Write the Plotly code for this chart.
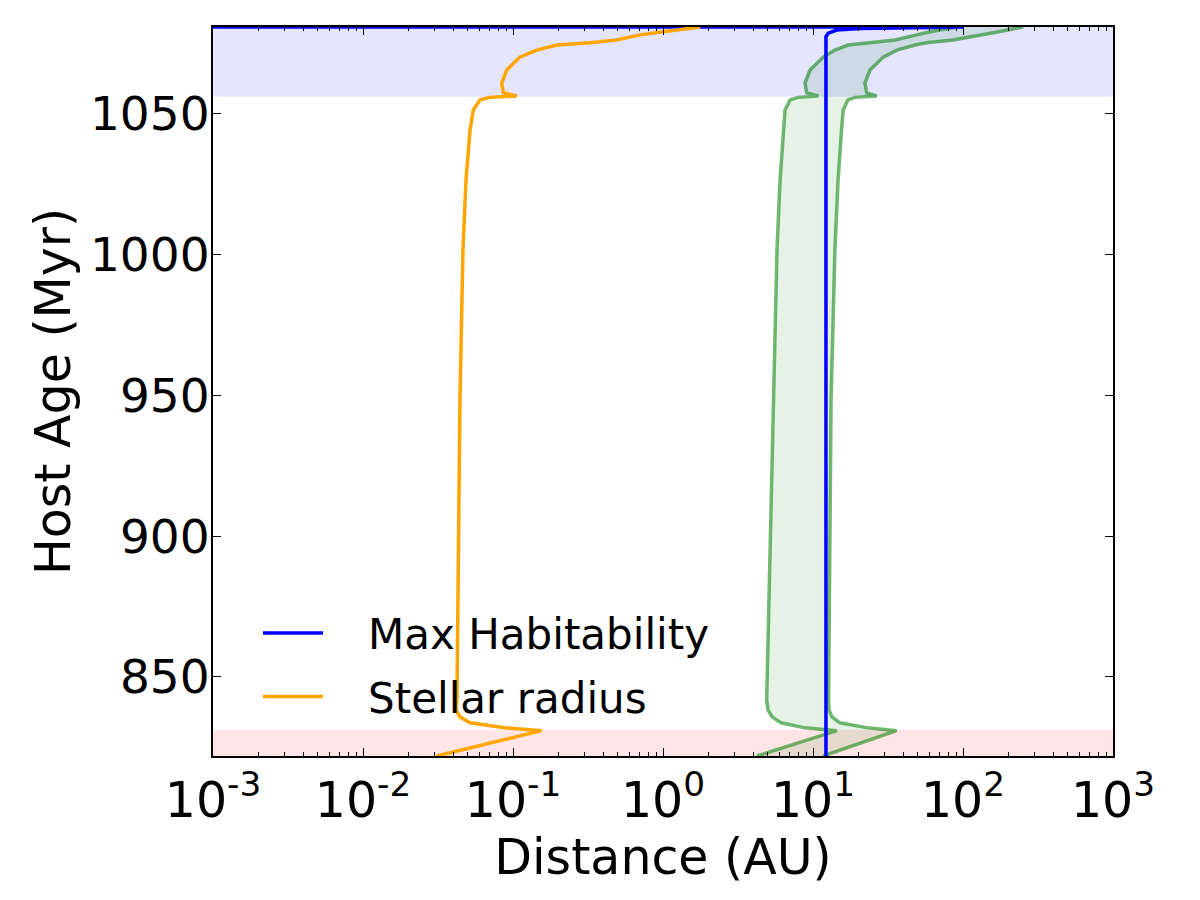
import plotly.graph_objects as go

# Host age (Myr) samples shared by stellar radius and HZ boundaries
age = [821.9, 830.9, 831.9, 833.7, 835.8, 838.3, 841.8, 895.1, 948.4, 1001.7,
       1026.6, 1044.3, 1051.4, 1055.0, 1055.9, 1056.4, 1057.5, 1061.0, 1065.6,
       1070.2, 1072.7, 1074.5, 1075.3, 1076.3, 1078.1, 1079.2, 1080.9]

# Stellar radius (AU)
stellar_radius = [0.031, 0.155, 0.088, 0.0517, 0.0443, 0.0417, 0.0423, 0.0433, 0.0443,
                  0.0464, 0.0486, 0.0517, 0.0544, 0.0603, 0.0703, 0.106, 0.0862, 0.0841,
                  0.0908, 0.111, 0.144, 0.196, 0.326, 0.491, 0.702, 1.0, 1.77]

# Habitable zone inner / outer edges (AU)
hz_inner = [4.22, 14.4, 8.84, 6.12, 5.33, 5.01, 4.91, 5.17, 5.44, 5.75, 6.03, 6.34, 6.51,
            7.03, 7.94, 10.85, 9.08, 8.84, 9.55, 11.7, 14.0, 17.1, 22.8, 35.2, 49.1, 60.3, 90.8]
hz_outer = [11.7, 36.1, 23.3, 15.1, 13.4, 12.8, 12.7, 13.0, 13.2, 14.0, 14.7, 15.5, 15.9,
            17.1, 19.1, 26.6, 22.8, 22.2, 24.0, 29.4, 36.3, 47.9, 57.3, 85.8, 137.0, 174.0, 252.0]

# Max habitability distance (AU)
maxhab_age = [821.9, 1077.5, 1078.7, 1079.8, 1080.4, 1080.9, 1080.9]
maxhab = [12.2, 12.2, 12.65, 14.4, 20.6, 100.0, 1e-4]

# Evolutionary phase boundaries (Myr)
pre_ms_end = 831.2
post_ms_start = 1056.1

age_range = [821.9, 1080.9]
x_tickvals = [1e-3, 1e-2, 1e-1, 1e0, 1e1, 1e2, 1e3]
x_ticktext = ["10<sup>-3</sup>", "10<sup>-2</sup>", "10<sup>-1</sup>", "10<sup>0</sup>",
              "10<sup>1</sup>", "10<sup>2</sup>", "10<sup>3</sup>"]
y_tickvals = [850, 900, 950, 1000, 1050]

NB = "\u00a0\u00a0\u00a0"

fig = go.Figure()

# HZ fill
fig.add_trace(go.Scatter(
    x=hz_inner + hz_outer[::-1], y=age + age[::-1],
    fill="toself", fillcolor="rgba(0,128,0,0.1)", line=dict(width=0),
    mode="lines", showlegend=False, hoverinfo="skip"))
fig.add_trace(go.Scatter(x=hz_inner, y=age, mode="lines",
                         line=dict(color="rgba(0,128,0,0.55)", width=3.5), showlegend=False))
fig.add_trace(go.Scatter(x=hz_outer, y=age, mode="lines",
                         line=dict(color="rgba(0,128,0,0.55)", width=3.5), showlegend=False))
fig.add_trace(go.Scatter(x=maxhab, y=maxhab_age, mode="lines", name=NB + "Max Habitability",
                         legendgroup="a", line=dict(color="#0000FF", width=3.5)))
fig.add_trace(go.Scatter(x=stellar_radius, y=age, mode="lines", name=NB + "Stellar radius",
                         legendgroup="b", line=dict(color="#FFA500", width=3.5)))

fig.add_shape(type="rect", xref="paper", x0=0, x1=1, yref="y",
              y0=age_range[0], y1=pre_ms_end, fillcolor="rgba(255,0,0,0.1)",
              line=dict(width=0), layer="below")
fig.add_shape(type="rect", xref="paper", x0=0, x1=1, yref="y",
              y0=post_ms_start, y1=age_range[1], fillcolor="rgba(0,0,255,0.1)",
              line=dict(width=0), layer="below")

fig.update_layout(
    width=1200, height=900,
    margin=dict(l=213, r=87, t=27, b=144),
    paper_bgcolor="white", plot_bgcolor="white",
    font=dict(family="DejaVu Sans", color="black"),
    legend=dict(x=0.05, y=0.034, xanchor="left", yanchor="bottom",
                bgcolor="rgba(0,0,0,0)", font=dict(size=42), itemwidth=60,
                traceorder="grouped", tracegroupgap=6),
)
fig.update_xaxes(
    type="log", range=[-3, 3], tickvals=x_tickvals, ticktext=x_ticktext,
    ticks="inside", ticklen=8, tickwidth=1, tickcolor="black",
    showline=True, linecolor="black", linewidth=2, mirror="ticks",
    showgrid=False, zeroline=False, tickfont=dict(size=49),
    minor=dict(ticks="inside", ticklen=4, tickcolor="black", dtick="D1", showgrid=False),
    title=dict(text="Distance (AU)", font=dict(size=49), standoff=12),
)
fig.update_yaxes(
    range=age_range, tickvals=y_tickvals,
    ticks="inside", ticklen=8, tickwidth=1, tickcolor="black",
    showline=True, linecolor="black", linewidth=2, mirror="ticks",
    showgrid=False, zeroline=False, tickfont=dict(size=47), ticklabelstandoff=-8,
    title=dict(text="Host Age (Myr)", font=dict(size=49), standoff=4),
)

fig.write_html("out.html")
